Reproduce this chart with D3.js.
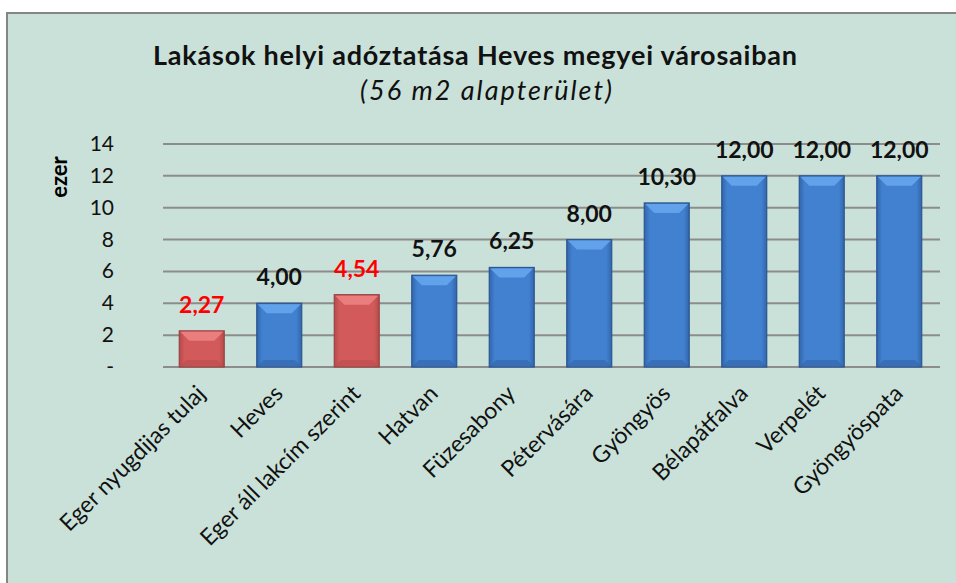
<!DOCTYPE html>
<html>
<head>
<meta charset="utf-8">
<script src="https://cdnjs.cloudflare.com/ajax/libs/d3/7.8.5/d3.min.js"></script>
<style>
    body { margin: 0; background: #fff; }
    svg text { font-family: Lato, "Open Sans", sans-serif; }
</style>
</head>
<body>
<div id="chart"></div>
<script>
    // chart data
    var towns = ["Eger nyugdijas tulaj", "Heves", "Eger áll lakcím szerint", "Hatvan", "Füzesabony",
                 "Pétervására", "Gyöngyös", "Bélapátfalva", "Verpelét", "Gyöngyöspata"];
    var taxes = [2.27, 4.00, 4.54, 5.76, 6.25, 8.00, 10.30, 12.00, 12.00, 12.00];
    var highlighted = [true, false, true, false, false, false, false, false, false, false];
    var yTicks = [0, 2, 4, 6, 8, 10, 12, 14];

    var width = 956, height = 583;

    var svg = d3.select("#chart").append("svg")
        .attr("width", width)
        .attr("height", height);

    // background panel
    svg.append("rect")
        .attr("x", 7).attr("y", 13)
        .attr("width", width).attr("height", height)
        .attr("fill", "#cae1d9")
        .attr("stroke", "#858585")
        .attr("stroke-width", 2);

    // gradients for the bars
    var defs = svg.append("defs");
    function barGradient(id, edge, mid) {
        var g = defs.append("linearGradient").attr("id", id)
            .attr("x1", "0%").attr("x2", "100%").attr("y1", "0%").attr("y2", "0%");
        g.append("stop").attr("offset", "0%").attr("stop-color", edge);
        g.append("stop").attr("offset", "12%").attr("stop-color", mid);
        g.append("stop").attr("offset", "88%").attr("stop-color", mid);
        g.append("stop").attr("offset", "100%").attr("stop-color", edge);
    }
    barGradient("blueGrad", "#3266ab", "#4280d0");
    barGradient("redGrad", "#b54a4a", "#d25a5a");

    var x = d3.scaleBand()
        .domain(towns)
        .range([163, 938])
        .paddingInner(0.42)
        .paddingOuter(0.21);

    var y = d3.scaleLinear()
        .domain([0, 14])
        .range([367, 144]);

    // gridlines
    svg.append("g")
        .selectAll("line")
        .data(yTicks)
        .enter().append("line")
        .attr("x1", 163).attr("x2", 940)
        .attr("y1", d => y(d)).attr("y2", d => y(d))
        .attr("stroke", "#8c8c8c")
        .attr("stroke-width", 2);

    // y axis labels
    svg.append("g")
        .selectAll("text")
        .data(yTicks)
        .enter().append("text")
        .attr("x", 114)
        .attr("y", d => y(d) + 7)
        .attr("text-anchor", "end")
        .style("font-size", "21px")
        .attr("fill", "#111")
        .text(d => d === 0 ? "-" : d);

    svg.append("text")
        .attr("transform", "translate(67,177) rotate(-90)")
        .attr("text-anchor", "middle")
        .style("font-size", "22px")
        .style("font-weight", "bold")
        .text("ezer");

    // bars
    var data = towns.map((t, i) => ({ town: t, value: taxes[i], red: highlighted[i] }));

    var bars = svg.append("g").selectAll("g")
        .data(data)
        .enter().append("g");

    bars.append("rect")
        .attr("x", d => x(d.town))
        .attr("y", d => y(d.value))
        .attr("width", x.bandwidth())
        .attr("height", d => y(0) - y(d.value))
        .attr("fill", d => d.red ? "url(#redGrad)" : "url(#blueGrad)")
        .attr("stroke", d => d.red ? "#9a4444" : "#2a5691")
        .attr("stroke-width", 1.2);

    // top bevel
    bars.append("path")
        .attr("d", d => {
            var x0 = x(d.town) + 1, x1 = x(d.town) + x.bandwidth() - 1, t = y(d.value) + 1, b = 9;
            return "M" + x0 + "," + t + "L" + x1 + "," + t + "L" + (x1 - b) + "," + (t + b) +
                "L" + (x0 + b) + "," + (t + b) + "Z";
        })
        .attr("fill", d => d.red ? "#ea7d7d" : "#62a2ea");

    // bottom bevel
    bars.append("path")
        .attr("d", d => {
            var x0 = x(d.town) + 1, x1 = x(d.town) + x.bandwidth() - 1, t = y(0) - 1, b = 6;
            return "M" + x0 + "," + t + "L" + x1 + "," + t + "L" + (x1 - b) + "," + (t - b) +
                "L" + (x0 + b) + "," + (t - b) + "Z";
        })
        .attr("fill", d => d.red ? "#bf4f4f" : "#3468ad")
        .attr("opacity", 0.7);

    // value labels
    var fmt = d3.format(".2f");
    bars.append("text")
        .attr("x", d => x(d.town) + x.bandwidth() / 2)
        .attr("y", d => y(d.value) - 18)
        .attr("text-anchor", "middle")
        .style("font-size", "23px")
        .style("font-weight", "bold")
        .attr("fill", d => d.red ? "#ff0000" : "#111")
        .text(d => fmt(d.value).replace(".", ","));

    // category labels
    svg.append("g").selectAll("text")
        .data(towns)
        .enter().append("text")
        .attr("transform", d => "translate(" + (x(d) + x.bandwidth() / 2 + 5) + ",395) rotate(-45)")
        .attr("text-anchor", "end")
        .style("font-size", "23px")
        .attr("fill", "#111")
        .text(d => d);

    // titles
    svg.append("text")
        .attr("x", 475).attr("y", 65)
        .attr("text-anchor", "middle")
        .attr("textLength", 644)
        .attr("lengthAdjust", "spacing")
        .style("font-size", "27px")
        .style("font-weight", "bold")
        .attr("fill", "#111")
        .text("Lakások helyi adóztatása Heves megyei városaiban");

    svg.append("text")
        .attr("x", 486).attr("y", 100)
        .attr("text-anchor", "middle")
        .attr("textLength", 252)
        .attr("lengthAdjust", "spacing")
        .style("font-size", "27px")
        .style("font-style", "italic")
        .attr("fill", "#111")
        .text("(56 m2 alapterület)");
</script>
</body>
</html>
